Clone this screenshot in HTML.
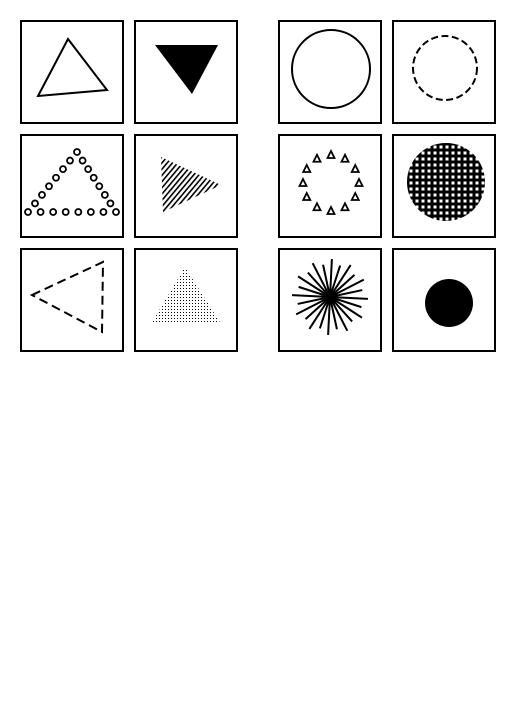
<!DOCTYPE html>
<html><head><meta charset="utf-8"><style>body{margin:0;background:#fff}svg{display:block}</style></head>
<body>
<svg id="s" width="526" height="704" viewBox="0 0 526 704" xmlns="http://www.w3.org/2000/svg">
<defs>
<pattern id="hatch" width="4" height="4" patternUnits="userSpaceOnUse" patternTransform="rotate(-50)"><rect width="4" height="1.6" fill="#000"/></pattern>
<pattern id="check" width="6" height="6" patternUnits="userSpaceOnUse"><rect width="6" height="6" fill="#000"/><rect x="1.5" y="1.5" width="3" height="3" fill="#fff"/></pattern>
<pattern id="stip" width="3" height="3" patternUnits="userSpaceOnUse"><rect width="1" height="1" fill="#000"/></pattern>
</defs>
<g fill="none" stroke="#000" stroke-width="2">
<rect x="21" y="21" width="102" height="102"/>
<rect x="135" y="21" width="102" height="102"/>
<rect x="279" y="21" width="102" height="102"/>
<rect x="393" y="21" width="102" height="102"/>
<rect x="21" y="135" width="102" height="102"/>
<rect x="135" y="135" width="102" height="102"/>
<rect x="279" y="135" width="102" height="102"/>
<rect x="393" y="135" width="102" height="102"/>
<rect x="21" y="249" width="102" height="102"/>
<rect x="135" y="249" width="102" height="102"/>
<rect x="279" y="249" width="102" height="102"/>
<rect x="393" y="249" width="102" height="102"/>
</g>
<polygon points="68,39 107,90 38,96" fill="none" stroke="#000" stroke-width="2"/>
<polygon points="155,45 218,45 192,94" fill="#000"/>
<circle cx="331" cy="69" r="39" fill="none" stroke="#000" stroke-width="2"/>
<circle cx="445" cy="68" r="32" fill="none" stroke="#000" stroke-width="2" stroke-dasharray="7,3.5"/>
<g id="dotTri" fill="none" stroke="#000" stroke-width="1.8"></g>
<polygon points="161,157 221,185 163,212" fill="url(#hatch)"/>
<g id="triRing" fill="none" stroke="#000" stroke-width="1.8"></g>
<circle cx="446" cy="182" r="39" fill="url(#check)"/>
<polygon points="32,295 103,262 102,332" fill="none" stroke="#000" stroke-width="2" stroke-dasharray="9,5"/>
<polygon points="185,267 221,324 151,324" fill="url(#stip)"/>
<g id="burst" stroke="#000" stroke-width="2"></g>
<circle cx="449" cy="303" r="24" fill="#000"/>
</svg>
<script>
var NS='http://www.w3.org/2000/svg';
var g=document.getElementById('dotTri');
var A=[77,152],L=[28,212],R=[116,212];
function dot(x,y){var c=document.createElementNS(NS,'circle');c.setAttribute('cx',x);c.setAttribute('cy',y);c.setAttribute('r',3);


g.appendChild(c);}
for(var i=0;i<8;i++){var t=i/7;dot(L[0]+(R[0]-L[0])*t,212);}
for(var i=1;i<7;i++){var t=i/7;dot(L[0]+(A[0]-L[0])*t,L[1]+(A[1]-L[1])*t);dot(R[0]+(A[0]-R[0])*t,R[1]+(A[1]-R[1])*t);}
dot(A[0],A[1]);
var tr=document.getElementById('triRing');
for(var i=0;i<12;i++){var a=i/12*2*Math.PI-Math.PI/2;var x=331+28*Math.cos(a),y=183+28*Math.sin(a);
var p=document.createElementNS(NS,'polygon');p.setAttribute('points',x+','+(y-4)+' '+(x+3.5)+','+(y+3)+' '+(x-3.5)+','+(y+3));


tr.appendChild(p);}
var b=document.getElementById('burst');
for(var i=0;i<24;i++){var a=i/24*2*Math.PI+0.05;var r=(i%2?33:38);
var l=document.createElementNS(NS,'line');l.setAttribute('x1',330);l.setAttribute('y1',297);l.setAttribute('x2',330+r*Math.cos(a));l.setAttribute('y2',297+r*Math.sin(a));


b.appendChild(l);}
</script>
</body></html>
